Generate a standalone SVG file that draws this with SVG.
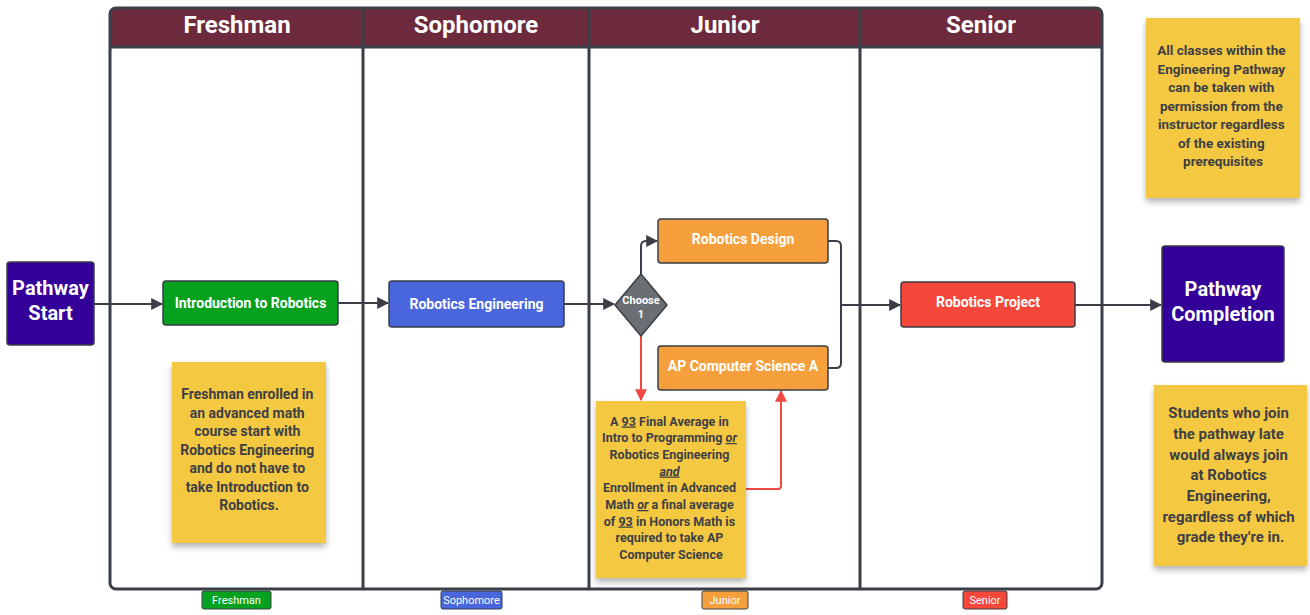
<svg xmlns="http://www.w3.org/2000/svg" width="1310" height="615" viewBox="0 0 1310 615">
<style>
.lane{fill:none;stroke:#3a3e46;stroke-width:3}
.hdr{font-family:Roboto,"Liberation Sans",sans-serif;font-weight:bold;font-size:24px;fill:#fff;text-anchor:middle}
.node{stroke:#3a3e46;stroke-width:1.5}
.nt{font-family:Roboto,"Liberation Sans",sans-serif;font-weight:bold;font-size:14px;fill:#fff;text-anchor:middle}
.big{font-family:Roboto,"Liberation Sans",sans-serif;font-weight:bold;font-size:20px;fill:#fff;text-anchor:middle}
.note{fill:#f5c842}
.st{font-family:Roboto,"Liberation Sans",sans-serif;font-weight:bold;fill:#3d3f45;text-anchor:middle}
.con{fill:none;stroke:#3a3e46;stroke-width:2}
.red{fill:none;stroke:#f0483e;stroke-width:2}
.tag{stroke:#3a3e46;stroke-width:1}
.tt{font-family:Roboto,"Liberation Sans",sans-serif;font-size:11px;fill:#fff;text-anchor:middle}
.u{text-decoration:underline}
.ui{text-decoration:underline;font-style:italic}
</style>
<defs>
<marker id="ah" viewBox="0 0 10 10" refX="9" refY="5" markerWidth="6" markerHeight="6" orient="auto"><path d="M0,0 L10,5 L0,10 z" fill="#3a3e46"/></marker>
<marker id="ahr" viewBox="0 0 10 10" refX="9" refY="5" markerWidth="6" markerHeight="6" orient="auto"><path d="M0,0 L10,5 L0,10 z" fill="#f0483e"/></marker>
<filter id="sh" x="-10%" y="-10%" width="130%" height="130%"><feDropShadow dx="0" dy="4" stdDeviation="3" flood-color="#000" flood-opacity="0.3"/></filter>
</defs>
<rect width="1310" height="615" fill="#fff"/>
<g id="swimlanes">
<path d="M110,47 V14 Q110,8 116,8 H1096 Q1102,8 1102,14 V47 Z" fill="#6d2a3c"/>
<rect x="110" y="8" width="992" height="581" rx="6" class="lane"/>
<line x1="110" y1="47" x2="1102" y2="47" class="lane"/>
<line x1="363" y1="8" x2="363" y2="589" class="lane"/>
<line x1="589" y1="8" x2="589" y2="589" class="lane"/>
<line x1="860" y1="8" x2="860" y2="589" class="lane"/>
<text x="237" y="33" class="hdr">Freshman</text>
<text x="476" y="33" class="hdr">Sophomore</text>
<text x="725" y="33" class="hdr">Junior</text>
<text x="981" y="33" class="hdr">Senior</text>
<rect x="202" y="591" width="69" height="18" rx="2" fill="#06a11e" class="tag"/><text x="236.5" y="604" class="tt">Freshman</text>
<rect x="441" y="591" width="61" height="18" rx="2" fill="#4a66dd" class="tag"/><text x="471.5" y="604" class="tt">Sophomore</text>
<rect x="702" y="591" width="46" height="18" rx="2" fill="#f5a03c" class="tag"/><text x="725" y="604" class="tt">Junior</text>
<rect x="963" y="591" width="44" height="18" rx="2" fill="#f5473a" class="tag"/><text x="985" y="604" class="tt">Senior</text>
</g>
<g id="connectors">
<path d="M94,304 H162" class="con" marker-end="url(#ah)"/>
<path d="M338,303 H388" class="con" marker-end="url(#ah)"/>
<path d="M564,304 H614" class="con" marker-end="url(#ah)"/>
<path d="M641,274 V246 Q641,241 646,241 H657" class="con" marker-end="url(#ah)"/>
<path d="M828,241 H836 Q841,241 841,246 V363 Q841,368 836,368 H828" class="con"/>
<path d="M841,305 H900" class="con" stroke-width="3" marker-end="url(#ah)"/>
<path d="M1075,305 H1161" class="con" marker-end="url(#ah)"/>
<path d="M641,336 V400" class="red" marker-end="url(#ahr)"/>
<path d="M746,489 H778 Q781,489 781,486 V391" class="red" marker-end="url(#ahr)"/>
</g>
<g id="pathway-start">
<rect x="7" y="262" width="87" height="83" rx="3" fill="#330099" class="node"/>
<text x="50.5" y="295" class="big">Pathway</text>
<text x="50.5" y="320" class="big">Start</text>
</g>
<g id="intro-robotics">
<rect x="163" y="281" width="175" height="44" rx="3" fill="#06a11e" class="node"/>
<text x="250.5" y="308" class="nt">Introduction to Robotics</text>
</g>
<g id="robotics-engineering">
<rect x="389" y="281" width="175" height="46" rx="3" fill="#4a66dd" class="node"/>
<text x="476.5" y="309" class="nt">Robotics Engineering</text>
</g>
<g id="choose-1">
<path d="M641,274 L667,305 L641,336 L615,305 Z" fill="#6b6e73" class="node" stroke-linejoin="round"/>
<text x="641" y="304" class="tt" font-weight="bold" font-size="10">Choose</text>
<text x="641" y="318" class="tt" font-weight="bold" font-size="10">1</text>
</g>
<g id="robotics-design">
<rect x="658" y="219" width="170" height="44" rx="3" fill="#f5a03c" class="node"/>
<text x="743" y="244" class="nt">Robotics Design</text>
</g>
<g id="ap-cs">
<rect x="658" y="346" width="170" height="44" rx="3" fill="#f5a03c" class="node"/>
<text x="743" y="371" class="nt">AP Computer Science A</text>
</g>
<g id="robotics-project">
<rect x="901" y="282" width="174" height="45" rx="3" fill="#f5473a" class="node"/>
<text x="988" y="307" class="nt">Robotics Project</text>
</g>
<g id="pathway-completion">
<rect x="1162" y="246" width="122" height="116" rx="3" fill="#330099" class="node"/>
<text x="1223" y="296" class="big">Pathway</text>
<text x="1223" y="321" class="big">Completion</text>
</g>
<g id="note-freshman">
<rect x="172" y="362" width="154" height="181" class="note" filter="url(#sh)"/>
<text class="st" font-size="14">
<tspan x="249" y="399">Freshman enrolled in</tspan>
<tspan x="249" y="417.5">an advanced math</tspan>
<tspan x="249" y="436">course start with</tspan>
<tspan x="249" y="454.5">Robotics Engineering</tspan>
<tspan x="249" y="473">and do not have to</tspan>
<tspan x="249" y="491.5">take Introduction to</tspan>
<tspan x="249" y="510">Robotics.</tspan>
</text>
</g>
<g id="note-ap">
<rect x="596" y="401" width="150" height="177" class="note" filter="url(#sh)"/>
<text class="st" font-size="12.5">
<tspan x="671" y="425.5">A <tspan class="u">93</tspan> Final Average in</tspan>
<tspan x="671" y="442">Intro to Programming <tspan class="ui">or</tspan></tspan>
<tspan x="671" y="459">Robotics Engineering</tspan>
<tspan x="671" y="475.5" class="ui">and</tspan>
<tspan x="671" y="492">Enrollment in Advanced</tspan>
<tspan x="671" y="509">Math <tspan class="ui">or</tspan> a final average</tspan>
<tspan x="671" y="525.5">of <tspan class="u">93</tspan> in Honors Math is</tspan>
<tspan x="671" y="542">required to take AP</tspan>
<tspan x="671" y="559">Computer Science</tspan>
</text>
</g>
<g id="note-permission">
<rect x="1146" y="18" width="154" height="180" class="note" filter="url(#sh)"/>
<text class="st" font-size="13.5">
<tspan x="1223" y="55">All classes within the</tspan>
<tspan x="1223" y="73.5">Engineering Pathway</tspan>
<tspan x="1223" y="92">can be taken with</tspan>
<tspan x="1223" y="110.5">permission from the</tspan>
<tspan x="1223" y="129">instructor regardless</tspan>
<tspan x="1223" y="147.5">of the existing</tspan>
<tspan x="1223" y="166">prerequisites</tspan>
</text>
</g>
<g id="note-late">
<rect x="1154" y="385" width="153" height="181" class="note" filter="url(#sh)"/>
<text class="st" font-size="15">
<tspan x="1230.5" y="418">Students who join</tspan>
<tspan x="1230.5" y="439">the pathway late</tspan>
<tspan x="1230.5" y="459.5">would always join</tspan>
<tspan x="1230.5" y="480">at Robotics</tspan>
<tspan x="1230.5" y="501">Engineering,</tspan>
<tspan x="1230.5" y="521.5">regardless of which</tspan>
<tspan x="1230.5" y="542">grade they're in.</tspan>
</text>
</g>
</svg>
